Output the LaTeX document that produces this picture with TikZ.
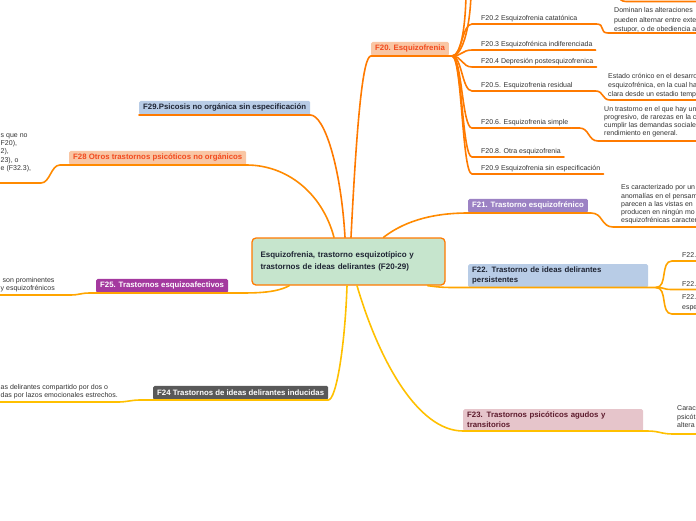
\documentclass[tikz,border=0pt]{standalone}
\usepackage{fontspec}
\setmainfont{Liberation Sans}
\definecolor{ink}{HTML}{333333}
\definecolor{navyink}{HTML}{1E2433}
\definecolor{deeporange}{HTML}{FF7A00}
\definecolor{orangeB}{HTML}{FF8A00}
\definecolor{amber}{HTML}{FFA500}
\definecolor{gold}{HTML}{FFC000}
\definecolor{mint}{HTML}{C6E5CD}
\definecolor{salmon}{HTML}{F9C6A4}
\definecolor{redorange}{HTML}{F24A1E}
\definecolor{skyblue}{HTML}{B8CCE6}
\definecolor{plum}{HTML}{A4399F}
\definecolor{lavender}{HTML}{9C82C4}
\definecolor{slate}{HTML}{595959}
\definecolor{rose}{HTML}{E6C5CB}
\definecolor{maroon}{HTML}{5C1A2C}
\begin{document}
\begin{tikzpicture}[x=1pt,y=-1pt,
  lab/.style={rounded corners=1.5pt,inner xsep=4pt,inner ysep=3pt,minimum height=14pt,anchor=south west,font=\fontsize{7.8}{9.8}\selectfont\bfseries},
  sub/.style={inner sep=0pt,anchor=base west,text=ink,font=\fontsize{7}{8.6}\selectfont},
  desc/.style={inner sep=0pt,anchor=north west,align=left,text=ink,font=\fontsize{7}{8.4}\selectfont},
  link/.style={line width=1.6pt,line cap=round}]
\useasboundingbox (0,0) rectangle (696,520);
\clip (0,0) rectangle (696,520);

% centro
\node[draw=deeporange,line width=1.3pt,fill=mint,rounded corners=4pt,minimum width=193pt,minimum height=47pt,text width=176pt,align=left,text=navyink,font=\fontsize{8}{12}\selectfont\bfseries] (root) at (348.5,261.5) {Esquizofrenia, trastorno esquizotípico y\\trastornos de ideas delirantes (F20-29)};

% F20
\node[lab,fill=salmon,text=redorange] (f20) at (371,56) {F20. Esquizofrenia};
\coordinate (h20) at (452,56);
\draw[link,deeporange] ([xshift=2.5pt]root.north) .. controls +(6,-120) and +(-8,0) .. (f20.south west) -- (h20);
\coordinate (t200) at (466,-10);
\coordinate (t201) at (471,-10);
\draw[link,deeporange] (h20) .. controls +(10,0) and +(0,30) .. (t200);
\draw[link,deeporange] (h20) .. controls +(12,0) and +(0,30) .. (t201);
\coordinate (u201) at (626,1.5);
\draw[link,deeporange] ([shift={(-16,-10)}]u201) .. controls +(9,0) and +(-9,0) .. (u201) -- ++(100,0);
\foreach \nm/\uy/\txt in {s202/24/F20.2 Esquizofrenia catatónica, s203/50/F20.3 Esquizofrénica indiferenciada, s204/67/F20.4 Depresión postesquizofrenica, s205/91/F20.5. Esquizofrenia residual, s206/128/F20.6. Esquizofrenia simple, s208/157/F20.8. Otra esquizofrenia, s209/174/F20.9 Esquizofrenia sin especificación}{
  \node[sub] (\nm) at (481,\uy-3.5) {\txt};
  \draw[link,deeporange] (h20) .. controls +(10,0) and +(-10,0) .. ([xshift=-9pt,yshift=-3.5pt]\nm.base west) -- ([xshift=3pt,yshift=-3.5pt]\nm.base east);
}
\node[desc,font=\fontsize{7}{9.5}\selectfont] (d202) at (614,7.5) {Dominan las alteraciones\\pueden alternar entre exte\\estupor, o de obediencia a};
\coordinate (u202) at (608,33);
\draw[link,deeporange] ([xshift=3pt,yshift=-3.5pt]s202.base east) -- ++(16,0) .. controls +(9,0) and +(-9,0) .. (u202) -- ++(100,0);
\node[desc,font=\fontsize{7}{9}\selectfont] (d205) at (608,73.5) {Estado crónico en el desarro\\esquizofrénica, en la cual ha\\clara desde un estadio temp};
\coordinate (u205) at (610,100);
\draw[link,deeporange] ([xshift=3pt,yshift=-3.5pt]s205.base east) -- ++(20,0) .. controls +(8,0) and +(-8,0) .. (u205) -- ++(100,0);
\node[desc,font=\fontsize{7}{8}\selectfont] (d206) at (604,106.5) {Un trastorno en el que hay un\\progresivo, de rarezas en la c\\cumplir las demandas sociale\\rendimiento en general.};
\coordinate (u206) at (598,141);
\draw[link,deeporange] ([xshift=3pt,yshift=-3.5pt]s206.base east) -- ++(8,0) .. controls +(10,0) and +(-10,0) .. (u206) -- ++(100,0);

% F29
\node[lab,fill=skyblue,text=navyink] (f29) at (139,115) {F29.Psicosis no orgánica sin especificación};
\draw[link,deeporange] ([xshift=-3.5pt]root.north) .. controls +(-4,-70) and +(14,0) .. (f29.south east) -- (f29.south west);

% F28
\node[lab,fill=salmon,text=redorange] (f28) at (69,165) {F28 Otros trastornos psicóticos no orgánicos};
\node[desc,font=\fontsize{7}{8.25}\selectfont] (d28) at (0.5,133.5) {s que no\\F20),\\2),\\23), o\\e (F32.3),};
\coordinate (u28) at (41,183);
\draw[link,orangeB] ([xshift=-14.5pt]root.north) .. controls +(-12,-45) and +(40,0) .. (f28.south east) -- (f28.south west) -- ++(-9,0) .. controls +(-9,0) and +(9,0) .. (u28) -- ++(-60,0);

% F25
\node[lab,fill=plum,text=white] (f25) at (96,293) {F25. Trastornos esquizoafectivos};
\node[desc,font=\fontsize{7}{8}\selectfont] (d25) at (0.5,277.5) {\hspace*{2pt}son prominentes\\y esquizofrénicos};
\coordinate (u25) at (70,295);
\draw[link,amber] ([xshift=38pt]root.south west) .. controls +(-15,8) and +(25,0) .. (f25.south east) -- (f25.south west) -- ++(-6,0) .. controls +(-10,0) and +(10,0) .. (u25) -- ++(-100,0);

% F24
\node[lab,fill=slate,text=white] (f24) at (153,400) {F24 Trastornos de ideas delirantes inducidas};
\node[desc,font=\fontsize{7}{8}\selectfont] (d24) at (0.5,384.5) {as delirantes compartido por dos o\\das por lazos emocionales estrechos.};
\coordinate (u24) at (118,402);
\draw[link,gold] ([xshift=-1.5pt]root.south) .. controls +(-2,60) and +(8,0) .. (f24.south east) -- (f24.south west) -- ++(-13,0) .. controls +(-9,0) and +(9,0) .. (u24) -- ++(-150,0);

% F21
\node[lab,fill=lavender,text=white] (f21) at (468,213) {F21. Trastorno esquizofrénico};
\node[desc,font=\fontsize{7}{8.25}\selectfont] (d21) at (621,184.5) {Es caracterizado por un\\anomalías en el pensam\\parecen a las vistas en\\producen en ningún mo\\esquizofrénicas caracter};
\coordinate (u21) at (613,227);
\draw[link,orangeB] ([xshift=35pt]root.north) .. controls +(18,-14) and +(-40,0) .. (f21.south west) -- (f21.south east) -- ++(3,0) .. controls +(12,0) and +(-12,0) .. (u21) -- ++(100,0);

% F22
\node[lab,fill=skyblue,text=navyink,text width=172pt,align=left] (f22) at (468,287.5) {F22. Trastorno de ideas delirantes\\persistentes};
\coordinate (h22) at (656,287.5);
\draw[link,amber] ([xshift=-18pt]root.south east) .. controls +(15,2) and +(-25,0) .. (f22.south west) -- (f22.south east) -- (h22);
\node[sub] (s220) at (682,257) {F22.};
\node[sub] (s228) at (682,286) {F22.};
\node[sub,anchor=north west,align=left,font=\fontsize{7}{10}\selectfont] (s229) at (682,294.5) {F22.\\espe};
\draw[link,amber] (h22) .. controls +(12,0) and +(-12,0) .. ([xshift=-10pt,yshift=-4pt]s220.base west) -- ++(100,0);
\draw[link,amber] (h22) .. controls +(10,0) and +(-10,0) .. ([xshift=-10pt,yshift=-3.5pt]s228.base west) -- ++(100,0);
\draw[link,amber] (h22) .. controls +(12,0) and +(-12,0) .. ([xshift=-10pt,yshift=-19.5pt]s229.north west) -- ++(100,0);

% F23
\node[lab,fill=rose,text=maroon,text width=172pt,align=left] (f23) at (463,431) {F23. Trastornos psicóticos agudos y\\transitorios};
\node[desc,font=\fontsize{7}{8.5}\selectfont] (d23) at (677,405.5) {Carac\\psicót\\altera};
\coordinate (u23) at (673,434);
\draw[link,gold] ([xshift=8.5pt]root.south) .. controls +(22,75) and +(-45,0) .. (f23.south west) -- (f23.south east) -- ++(4,0) .. controls +(12,0) and +(-12,0) .. (u23) -- ++(100,0);
\end{tikzpicture}
\end{document}
